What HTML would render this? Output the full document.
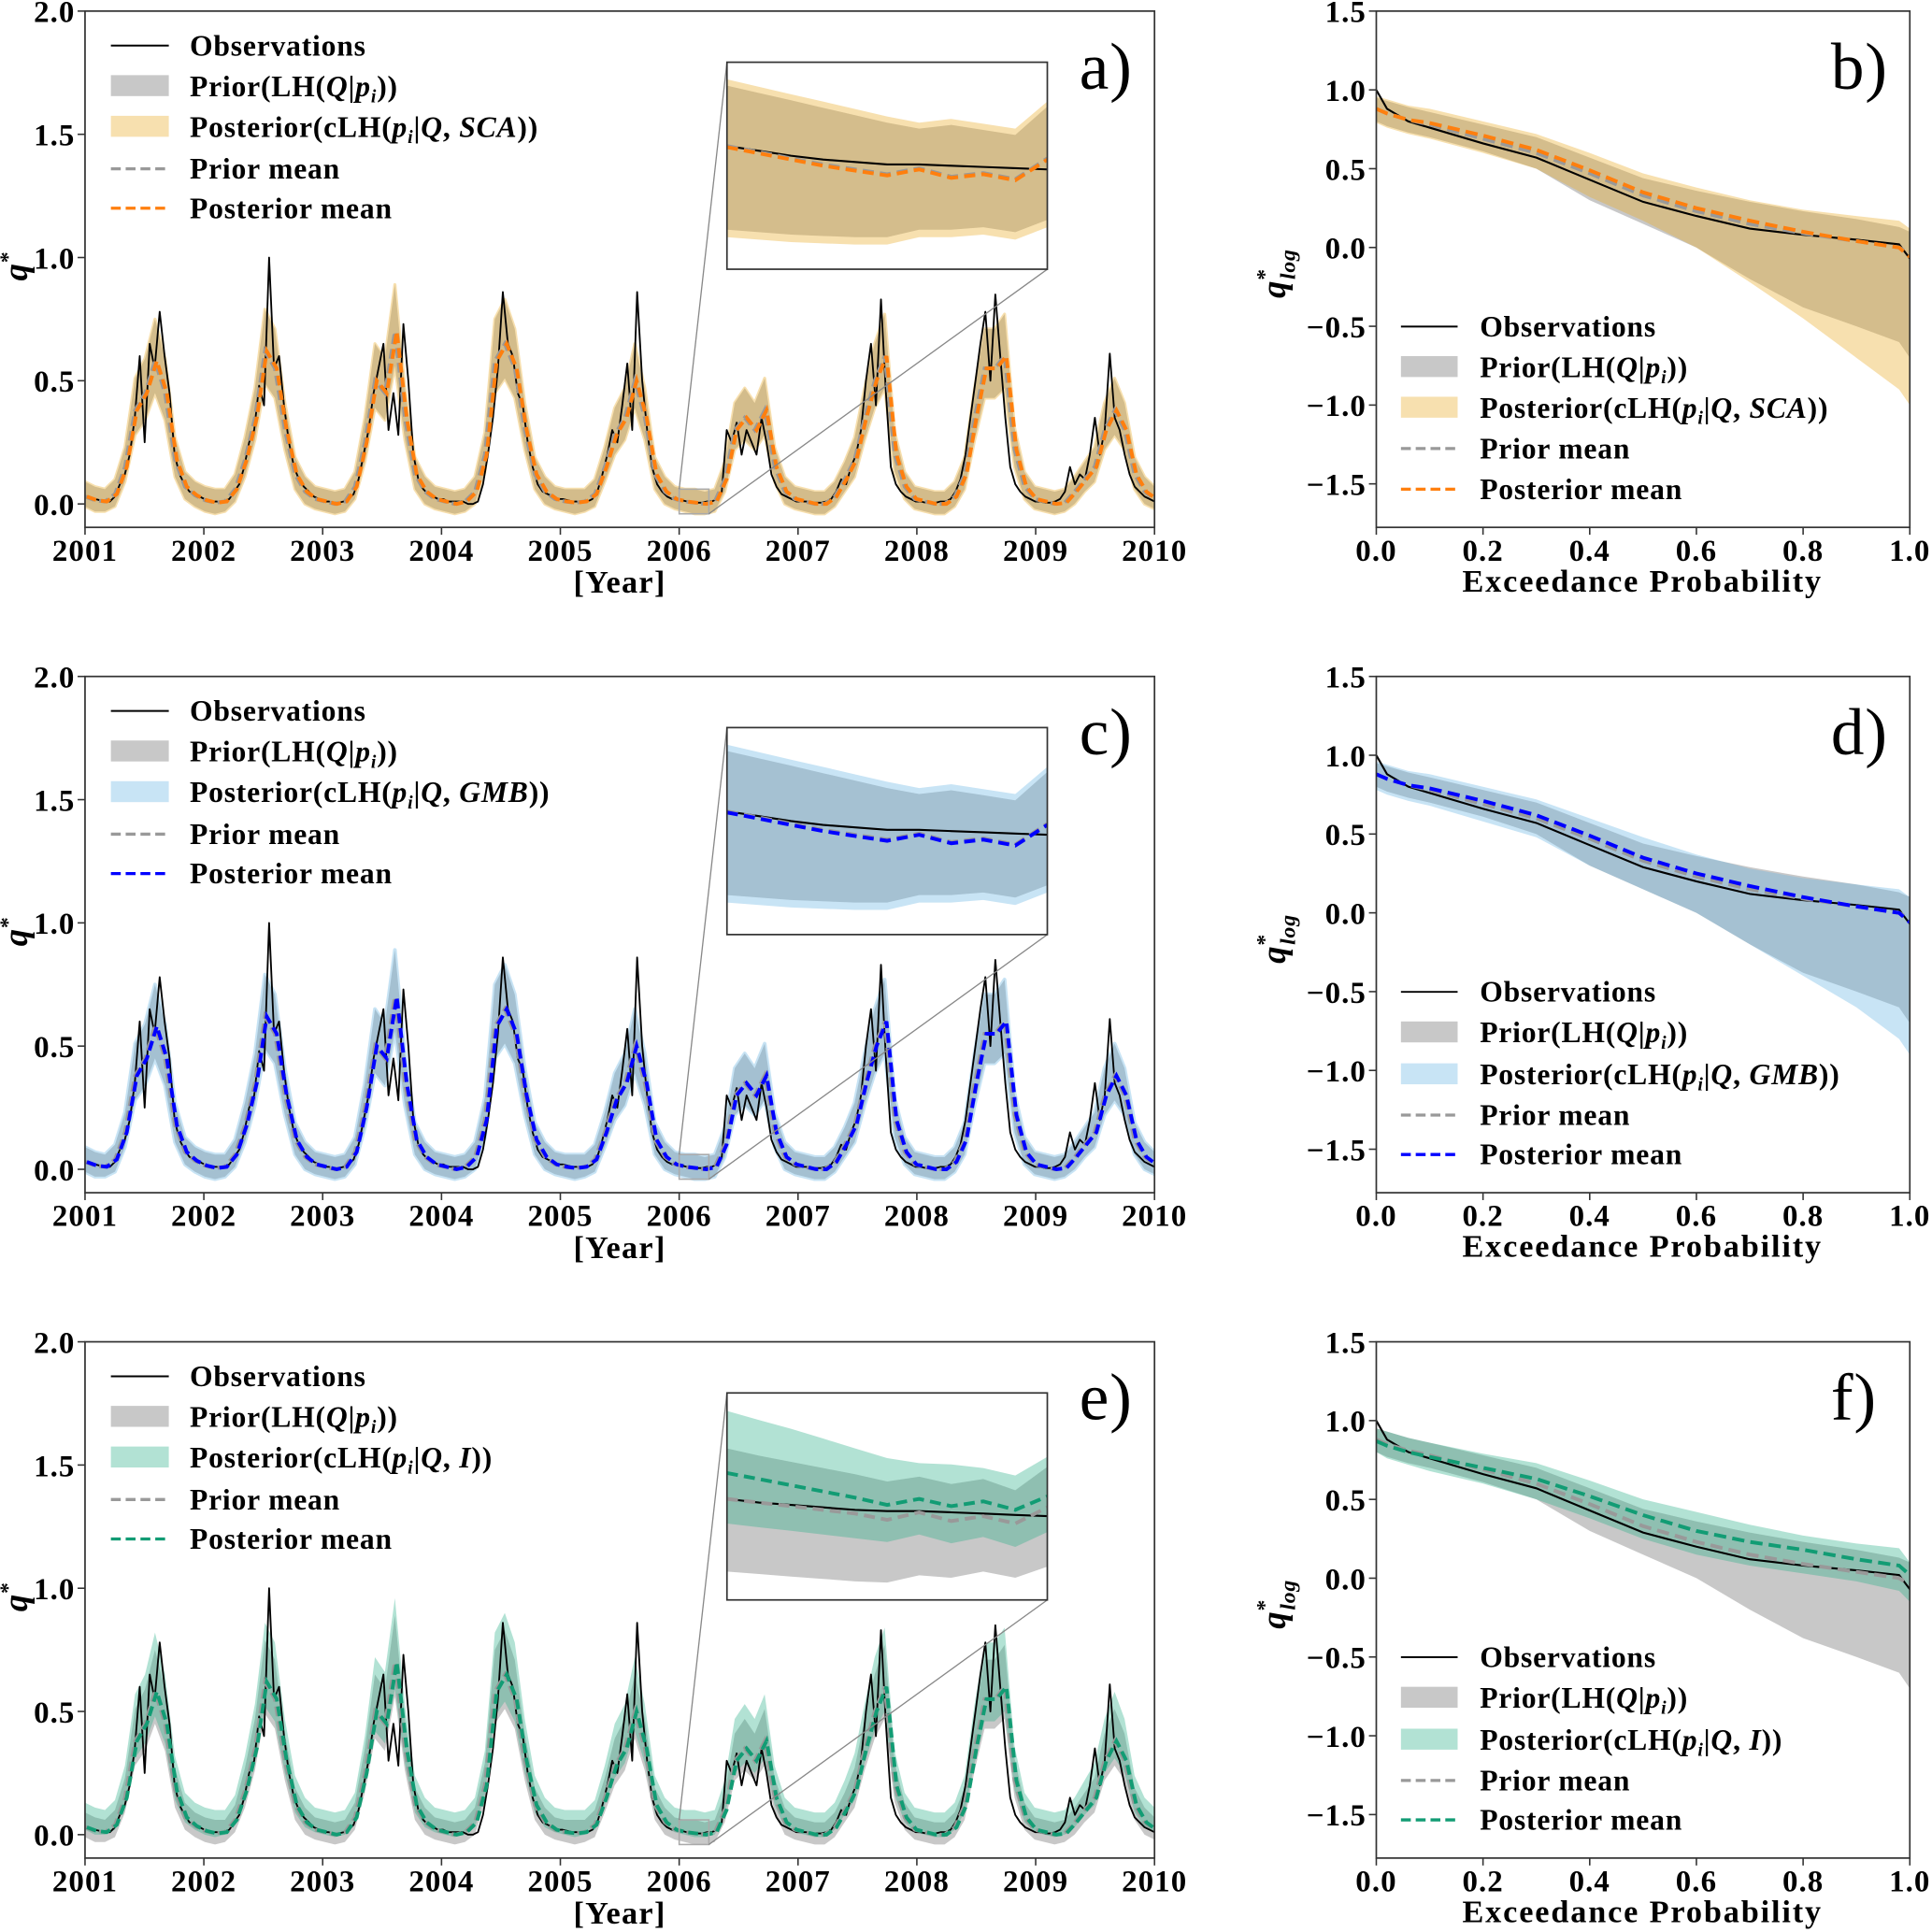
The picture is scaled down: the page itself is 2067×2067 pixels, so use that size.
<!DOCTYPE html>
<html><head><meta charset="utf-8"><style>
html,body{margin:0;padding:0;background:#fff;}
svg{display:block;font-family:"Liberation Serif",serif;font-weight:bold;}
</style></head><body>
<svg id="fig" width="2067" height="2067" viewBox="0 0 1568 1568" xmlns="http://www.w3.org/2000/svg">
<defs>
<clipPath id="clipTS0"><rect x="69" y="9" width="868" height="419"/></clipPath>
<clipPath id="clipTS1"><rect x="69" y="549" width="868" height="419"/></clipPath>
<clipPath id="clipTS2"><rect x="69" y="1089" width="868" height="419"/></clipPath>
<clipPath id="clipIn0"><rect x="590" y="50.5" width="260" height="168"/></clipPath>
<clipPath id="clipIn1"><rect x="590" y="590.5" width="260" height="168"/></clipPath>
<clipPath id="clipIn2"><rect x="590" y="1130.5" width="260" height="168"/></clipPath>
<clipPath id="clipF0"><rect x="1117" y="9" width="433" height="419"/></clipPath>
<clipPath id="clipF1"><rect x="1117" y="549" width="433" height="419"/></clipPath>
<clipPath id="clipF2"><rect x="1117" y="1089" width="433" height="419"/></clipPath>
</defs>
<g id="marks"></g>
<g id="static" font-size="24" letter-spacing="0.6">
<g>
 <line x1="90" y1="37" x2="137" y2="37" stroke="#000" stroke-width="1.5"/>
 <text x="154" y="45">Observations</text>
 <rect x="90" y="61" width="47" height="17" fill="#808080" fill-opacity="0.43"/>
 <text x="154" y="78">Prior(LH(<tspan font-style="italic">Q</tspan>|<tspan font-style="italic">p</tspan><tspan font-style="italic" font-size="15" dy="5">i</tspan><tspan dy="-5">))</tspan></text>
 <rect x="90" y="94" width="47" height="17" fill="rgb(233,169,33)" fill-opacity="0.36"/>
 <text x="154" y="111">Posterior(cLH(<tspan font-style="italic">p</tspan><tspan font-style="italic" font-size="15" dy="5">i</tspan><tspan dy="-5">|</tspan><tspan font-style="italic">Q</tspan>, <tspan font-style="italic">SCA</tspan>))</text>
 <line x1="90" y1="137" x2="137" y2="137" stroke="#999" stroke-width="2.5" stroke-dasharray="8,4"/>
 <text x="154" y="145">Prior mean</text>
 <line x1="90" y1="169" x2="137" y2="169" stroke="#ff7f0e" stroke-width="2.5" stroke-dasharray="8,4"/>
 <text x="154" y="177">Posterior mean</text>
</g>
<g>
 <line x1="90" y1="577" x2="137" y2="577" stroke="#000" stroke-width="1.5"/>
 <text x="154" y="585">Observations</text>
 <rect x="90" y="601" width="47" height="17" fill="#808080" fill-opacity="0.43"/>
 <text x="154" y="618">Prior(LH(<tspan font-style="italic">Q</tspan>|<tspan font-style="italic">p</tspan><tspan font-style="italic" font-size="15" dy="5">i</tspan><tspan dy="-5">))</tspan></text>
 <rect x="90" y="634" width="47" height="17" fill="rgb(102,180,227)" fill-opacity="0.36"/>
 <text x="154" y="651">Posterior(cLH(<tspan font-style="italic">p</tspan><tspan font-style="italic" font-size="15" dy="5">i</tspan><tspan dy="-5">|</tspan><tspan font-style="italic">Q</tspan>, <tspan font-style="italic">GMB</tspan>))</text>
 <line x1="90" y1="677" x2="137" y2="677" stroke="#999" stroke-width="2.5" stroke-dasharray="8,4"/>
 <text x="154" y="685">Prior mean</text>
 <line x1="90" y1="709" x2="137" y2="709" stroke="#0000ff" stroke-width="2.5" stroke-dasharray="8,4"/>
 <text x="154" y="717">Posterior mean</text>
</g>
<g>
 <line x1="90" y1="1117" x2="137" y2="1117" stroke="#000" stroke-width="1.5"/>
 <text x="154" y="1125">Observations</text>
 <rect x="90" y="1141" width="47" height="17" fill="#808080" fill-opacity="0.43"/>
 <text x="154" y="1158">Prior(LH(<tspan font-style="italic">Q</tspan>|<tspan font-style="italic">p</tspan><tspan font-style="italic" font-size="15" dy="5">i</tspan><tspan dy="-5">))</tspan></text>
 <rect x="90" y="1174" width="47" height="17" fill="rgb(41,174,136)" fill-opacity="0.36"/>
 <text x="154" y="1191">Posterior(cLH(<tspan font-style="italic">p</tspan><tspan font-style="italic" font-size="15" dy="5">i</tspan><tspan dy="-5">|</tspan><tspan font-style="italic">Q</tspan>, <tspan font-style="italic">I</tspan>))</text>
 <line x1="90" y1="1217" x2="137" y2="1217" stroke="#999" stroke-width="2.5" stroke-dasharray="8,4"/>
 <text x="154" y="1225">Prior mean</text>
 <line x1="90" y1="1249" x2="137" y2="1249" stroke="#129c74" stroke-width="2.5" stroke-dasharray="8,4"/>
 <text x="154" y="1257">Posterior mean</text>
</g>
<g>
 <line x1="1137" y1="265" x2="1183" y2="265" stroke="#000" stroke-width="1.5"/>
 <text x="1201" y="273">Observations</text>
 <rect x="1137" y="289" width="46" height="17" fill="#808080" fill-opacity="0.43"/>
 <text x="1201" y="306">Prior(LH(<tspan font-style="italic">Q</tspan>|<tspan font-style="italic">p</tspan><tspan font-style="italic" font-size="15" dy="5">i</tspan><tspan dy="-5">))</tspan></text>
 <rect x="1137" y="322" width="46" height="17" fill="rgb(233,169,33)" fill-opacity="0.36"/>
 <text x="1201" y="339">Posterior(cLH(<tspan font-style="italic">p</tspan><tspan font-style="italic" font-size="15" dy="5">i</tspan><tspan dy="-5">|</tspan><tspan font-style="italic">Q</tspan>, <tspan font-style="italic">SCA</tspan>))</text>
 <line x1="1137" y1="364" x2="1183" y2="364" stroke="#999" stroke-width="2.5" stroke-dasharray="8,4"/>
 <text x="1201" y="372">Prior mean</text>
 <line x1="1137" y1="397" x2="1183" y2="397" stroke="#ff7f0e" stroke-width="2.5" stroke-dasharray="8,4"/>
 <text x="1201" y="405">Posterior mean</text>
</g>
<g>
 <line x1="1137" y1="805" x2="1183" y2="805" stroke="#000" stroke-width="1.5"/>
 <text x="1201" y="813">Observations</text>
 <rect x="1137" y="829" width="46" height="17" fill="#808080" fill-opacity="0.43"/>
 <text x="1201" y="846">Prior(LH(<tspan font-style="italic">Q</tspan>|<tspan font-style="italic">p</tspan><tspan font-style="italic" font-size="15" dy="5">i</tspan><tspan dy="-5">))</tspan></text>
 <rect x="1137" y="863" width="46" height="17" fill="rgb(102,180,227)" fill-opacity="0.36"/>
 <text x="1201" y="880">Posterior(cLH(<tspan font-style="italic">p</tspan><tspan font-style="italic" font-size="15" dy="5">i</tspan><tspan dy="-5">|</tspan><tspan font-style="italic">Q</tspan>, <tspan font-style="italic">GMB</tspan>))</text>
 <line x1="1137" y1="905" x2="1183" y2="905" stroke="#999" stroke-width="2.5" stroke-dasharray="8,4"/>
 <text x="1201" y="913">Prior mean</text>
 <line x1="1137" y1="937" x2="1183" y2="937" stroke="#0000ff" stroke-width="2.5" stroke-dasharray="8,4"/>
 <text x="1201" y="945">Posterior mean</text>
</g>
<g>
 <line x1="1137" y1="1345" x2="1183" y2="1345" stroke="#000" stroke-width="1.5"/>
 <text x="1201" y="1353">Observations</text>
 <rect x="1137" y="1369" width="46" height="17" fill="#808080" fill-opacity="0.43"/>
 <text x="1201" y="1386">Prior(LH(<tspan font-style="italic">Q</tspan>|<tspan font-style="italic">p</tspan><tspan font-style="italic" font-size="15" dy="5">i</tspan><tspan dy="-5">))</tspan></text>
 <rect x="1137" y="1403" width="46" height="17" fill="rgb(41,174,136)" fill-opacity="0.36"/>
 <text x="1201" y="1420">Posterior(cLH(<tspan font-style="italic">p</tspan><tspan font-style="italic" font-size="15" dy="5">i</tspan><tspan dy="-5">|</tspan><tspan font-style="italic">Q</tspan>, <tspan font-style="italic">I</tspan>))</text>
 <line x1="1137" y1="1445" x2="1183" y2="1445" stroke="#999" stroke-width="2.5" stroke-dasharray="8,4"/>
 <text x="1201" y="1453">Prior mean</text>
 <line x1="1137" y1="1477" x2="1183" y2="1477" stroke="#129c74" stroke-width="2.5" stroke-dasharray="8,4"/>
 <text x="1201" y="1485">Posterior mean</text>
</g>
<text x="876" y="72" font-size="54" font-weight="normal">a)</text>
<text x="1486" y="72" font-size="54" font-weight="normal">b)</text>
<text x="876" y="612" font-size="54" font-weight="normal">c)</text>
<text x="1486" y="612" font-size="54" font-weight="normal">d)</text>
<text x="876" y="1152" font-size="54" font-weight="normal">e)</text>
<text x="1486" y="1152" font-size="54" font-weight="normal">f)</text>
<text x="503" y="481" font-size="26" letter-spacing="1" text-anchor="middle">[Year]</text>
<text x="503" y="1021" font-size="26" letter-spacing="1" text-anchor="middle">[Year]</text>
<text x="503" y="1561" font-size="26" letter-spacing="1" text-anchor="middle">[Year]</text>
<text x="1333" y="480" font-size="26" letter-spacing="1.4" text-anchor="middle">Exceedance Probability</text>
<text x="1333" y="1020" font-size="26" letter-spacing="1.4" text-anchor="middle">Exceedance Probability</text>
<text x="1333" y="1560" font-size="26" letter-spacing="1.4" text-anchor="middle">Exceedance Probability</text>
<g transform="translate(22,228) rotate(-90)"><text font-size="28" font-style="italic">q<tspan font-size="18" dy="-10" font-style="normal">*</tspan></text></g>
<g transform="translate(22,768) rotate(-90)"><text font-size="28" font-style="italic">q<tspan font-size="18" dy="-10" font-style="normal">*</tspan></text></g>
<g transform="translate(22,1308) rotate(-90)"><text font-size="28" font-style="italic">q<tspan font-size="18" dy="-10" font-style="normal">*</tspan></text></g>
<g transform="translate(1043,242) rotate(-90)"><text font-size="28" font-style="italic">q<tspan font-size="18" dy="-11" font-style="normal">*</tspan><tspan font-size="18" dx="-9" dy="19">log</tspan></text></g>
<g transform="translate(1043,782) rotate(-90)"><text font-size="28" font-style="italic">q<tspan font-size="18" dy="-11" font-style="normal">*</tspan><tspan font-size="18" dx="-9" dy="19">log</tspan></text></g>
<g transform="translate(1043,1322) rotate(-90)"><text font-size="28" font-style="italic">q<tspan font-size="18" dy="-11" font-style="normal">*</tspan><tspan font-size="18" dx="-9" dy="19">log</tspan></text></g>
</g>
</svg>
<script>
const years = [2001,2002,2003,2004,2005,2006,2007,2008,2009,2010];
const yTicksTS = [0.0,0.5,1.0,1.5,2.0];
const yTickLabelsTS = ['0.0','0.5','1.0','1.5','2.0'];
const obs = [
0.03,0.025,0.02,0.015,0.01,0.01,0.03,0.08,0.12,0.2,0.35,0.6,0.25,0.65,0.55,0.78,0.6,0.45,0.2,0.12,0.08,0.05,0.04,0.03,
0.02,0.015,0.01,0.01,0.01,0.02,0.05,0.08,0.15,0.25,0.3,0.48,0.4,1.0,0.55,0.6,0.4,0.25,0.15,0.1,0.07,0.05,0.03,0.02,
0.01,0.01,0.005,0.005,0.01,0.02,0.04,0.1,0.2,0.3,0.45,0.55,0.65,0.3,0.45,0.28,0.73,0.5,0.2,0.1,0.06,0.04,0.03,0.02,
0.02,0.01,0.01,0.01,0.01,0.0,0.0,0.01,0.08,0.2,0.35,0.55,0.86,0.65,0.6,0.45,0.4,0.25,0.15,0.08,0.05,0.04,0.03,0.02,
0.02,0.015,0.01,0.01,0.01,0.01,0.02,0.05,0.12,0.2,0.3,0.25,0.4,0.57,0.3,0.86,0.5,0.3,0.15,0.08,0.05,0.03,0.02,0.02,
0.015,0.01,0.01,0.005,0.005,0.01,0.01,0.02,0.05,0.3,0.25,0.33,0.2,0.3,0.25,0.2,0.35,0.25,0.12,0.07,0.04,0.03,0.02,0.01,
0.01,0.01,0.005,0.005,0.005,0.01,0.02,0.05,0.1,0.08,0.15,0.2,0.3,0.5,0.65,0.4,0.83,0.45,0.15,0.08,0.05,0.03,0.02,0.01,
0.01,0.005,0.005,0.005,0.01,0.01,0.02,0.05,0.1,0.2,0.35,0.5,0.65,0.78,0.5,0.85,0.6,0.35,0.15,0.08,0.05,0.03,0.02,0.01,
0.01,0.005,0.005,0.01,0.02,0.05,0.15,0.08,0.12,0.1,0.2,0.35,0.2,0.3,0.61,0.35,0.3,0.2,0.12,0.07,0.05,0.03,0.02,0.01];
const priorMean = [
0.03,0.015,0.01,0.04,0.15,0.38,0.45,0.58,0.45,0.18,0.07,0.035,
0.015,0.005,0.01,0.06,0.18,0.35,0.62,0.55,0.3,0.12,0.05,0.02,
0.01,0.0,0.01,0.07,0.25,0.5,0.45,0.7,0.35,0.12,0.05,0.02,
0.01,0.0,0.01,0.05,0.2,0.58,0.65,0.55,0.3,0.12,0.05,0.02,
0.01,0.005,0.01,0.04,0.15,0.28,0.35,0.5,0.35,0.12,0.05,0.02,
0.01,0.005,0.0,0.01,0.1,0.3,0.35,0.3,0.38,0.15,0.05,0.02,
0.01,0.0,0.0,0.03,0.1,0.18,0.35,0.5,0.6,0.2,0.07,0.02,
0.01,0.0,0.0,0.03,0.12,0.35,0.55,0.55,0.6,0.22,0.07,0.02,
0.01,0.0,0.005,0.05,0.1,0.15,0.3,0.38,0.3,0.12,0.05,0.02];
const priorHi = [
0.09,0.07,0.06,0.10,0.23,0.51,0.59,0.75,0.59,0.27,0.13,0.09,
0.07,0.06,0.06,0.12,0.27,0.47,0.79,0.71,0.41,0.19,0.11,0.07,
0.06,0.05,0.06,0.13,0.35,0.65,0.59,0.89,0.47,0.19,0.11,0.07,
0.06,0.05,0.06,0.11,0.29,0.75,0.83,0.71,0.41,0.19,0.11,0.07,
0.06,0.06,0.06,0.10,0.23,0.39,0.47,0.65,0.47,0.19,0.11,0.07,
0.06,0.06,0.05,0.06,0.17,0.41,0.47,0.41,0.51,0.23,0.11,0.07,
0.06,0.05,0.05,0.09,0.17,0.27,0.47,0.65,0.77,0.29,0.13,0.07,
0.06,0.05,0.05,0.09,0.19,0.47,0.71,0.71,0.77,0.31,0.13,0.07,
0.06,0.05,0.06,0.11,0.17,0.23,0.41,0.51,0.41,0.19,0.11,0.07];
const priorLo = [
-0.01,-0.03,-0.03,-0.01,0.09,0.28,0.34,0.45,0.34,0.11,0.02,-0.01,
-0.03,-0.04,-0.03,0.01,0.11,0.26,0.49,0.43,0.22,0.06,0.0,-0.02,
-0.03,-0.04,-0.03,0.02,0.17,0.39,0.34,0.56,0.26,0.06,0.0,-0.02,
-0.03,-0.04,-0.03,0.0,0.13,0.45,0.51,0.43,0.22,0.06,0.0,-0.02,
-0.03,-0.04,-0.03,-0.01,0.09,0.2,0.26,0.39,0.26,0.06,0.0,-0.02,
-0.03,-0.04,-0.04,-0.03,0.05,0.22,0.26,0.22,0.28,0.09,0.0,-0.02,
-0.03,-0.04,-0.04,-0.01,0.05,0.11,0.26,0.39,0.47,0.13,0.02,-0.02,
-0.03,-0.04,-0.04,-0.01,0.06,0.26,0.43,0.43,0.47,0.15,0.02,-0.02,
-0.03,-0.04,-0.03,0.0,0.05,0.09,0.22,0.28,0.22,0.06,0.0,-0.02];
const postHiE = [
0.13,0.11,0.10,0.14,0.28,0.57,0.65,0.82,0.65,0.32,0.17,0.13,
0.11,0.10,0.10,0.16,0.32,0.53,0.86,0.78,0.47,0.24,0.15,0.11,
0.10,0.09,0.10,0.17,0.40,0.72,0.66,0.96,0.53,0.24,0.15,0.11,
0.10,0.09,0.10,0.15,0.34,0.82,0.90,0.78,0.47,0.24,0.15,0.11,
0.10,0.10,0.10,0.14,0.28,0.45,0.53,0.72,0.53,0.24,0.15,0.11,
0.10,0.10,0.09,0.10,0.22,0.47,0.53,0.47,0.57,0.28,0.15,0.11,
0.10,0.09,0.09,0.13,0.22,0.33,0.53,0.72,0.84,0.34,0.17,0.11,
0.10,0.09,0.09,0.13,0.24,0.53,0.78,0.78,0.84,0.36,0.17,0.11,
0.10,0.09,0.10,0.15,0.22,0.29,0.47,0.58,0.47,0.24,0.15,0.11];
const postLoE = [
0.02,0.0,0.0,0.02,0.12,0.31,0.37,0.48,0.37,0.14,0.05,0.02,
0.0,-0.01,0.0,0.04,0.14,0.29,0.52,0.46,0.25,0.09,0.03,0.01,
0.0,-0.01,0.0,0.05,0.2,0.42,0.37,0.59,0.29,0.09,0.03,0.01,
0.0,-0.01,0.0,0.03,0.16,0.48,0.54,0.46,0.25,0.09,0.03,0.01,
0.0,-0.01,0.0,0.02,0.12,0.23,0.29,0.42,0.29,0.09,0.03,0.01,
0.0,-0.01,-0.01,0.0,0.08,0.25,0.29,0.25,0.31,0.12,0.03,0.01,
0.0,-0.01,-0.01,0.02,0.08,0.14,0.29,0.42,0.5,0.16,0.05,0.01,
0.0,-0.01,-0.01,0.02,0.09,0.29,0.46,0.46,0.5,0.18,0.05,0.01,
0.0,-0.01,0.0,0.03,0.08,0.12,0.25,0.31,0.25,0.09,0.03,0.01];
const postHiAC = priorHi;
const postLoAC = priorLo;
const postMeanAC = priorMean;
const postMeanE = priorMean;

const insetT = [2006.0,2006.025,2006.05,2006.075,2006.1,2006.125,2006.15,2006.175,2006.2,2006.225,2006.25];
const inObs = [19.5,17.2,14.8,13.0,11.8,10.6,10.6,10.0,9.4,8.8,8.2];
const inPriorMean = [19.5,16.6,13.6,10.6,8.2,5.9,8.8,4.7,6.5,3.5,13.6];
const inPriorHi = [48.7,45.1,41.6,38.0,34.4,30.8,27.9,29.7,27.3,24.9,38.6];
const inPriorLo = [-20.9,-22.1,-23.3,-23.9,-24.5,-24.5,-20.9,-20.9,-19.7,-22.1,-16.2];
const inPostHi = [51.7,48.1,44.5,41.0,37.4,33.8,30.8,32.6,30.3,27.9,41.0];
const inPostLo = [-24.5,-25.7,-26.9,-27.5,-28.1,-28.1,-24.5,-24.5,-23.3,-25.7,-19.7];
const inPostMeanAC = [19.0,16.0,13.0,10.0,7.6,5.3,8.2,4.1,5.9,3.0,13.0];
const inEObs = [8.8,7.0,5.9,4.7,3.5,2.9,2.9,2.3,1.7,1.1,0.5];
const inEPriorMean = [8.8,7.0,5.3,3.5,1.7,-1.3,2.3,-1.9,0.5,-3.1,4.7];
const inEPriorHi = [33.2,29.7,26.7,23.7,20.7,17.2,19.5,16.0,18.4,13.0,24.3];
const inEPriorLo = [-26.3,-27.5,-28.7,-29.8,-31.0,-31.6,-28.1,-29.3,-26.3,-29.3,-23.9];
const inEPostHi = [51.3,46.9,42.7,38.0,33.2,28.5,26.1,25.5,23.7,20.1,29.1];
const inEPostLo = [-3.1,-4.9,-6.6,-8.4,-10.2,-12.0,-8.4,-12.6,-9.6,-14.4,-7.2];
const inEPostMean = [21.3,18.4,15.4,12.4,9.4,5.9,8.8,5.3,7.6,3.5,10.0];

const pTicks = [0.0,0.2,0.4,0.6,0.8,1.0];
const pTickLabels = ['0.0','0.2','0.4','0.6','0.8','1.0'];
const yTicksF = [-1.5,-1.0,-0.5,0.0,0.5,1.0,1.5];
const yTickLabelsF = ['\u22121.5','\u22121.0','\u22120.5','0.0','0.5','1.0','1.5'];
const exceed = [0,0.02,0.06,0.1,0.2,0.3,0.4,0.5,0.6,0.7,0.8,0.9,0.98,1.0];
const fdcObs = [1.0,0.88,0.8,0.76,0.66,0.57,0.43,0.29,0.2,0.12,0.08,0.05,0.02,-0.07];
const fdcPriorMean = [0.88,0.85,0.81,0.78,0.69,0.6,0.47,0.33,0.23,0.15,0.09,0.04,0.0,-0.04];
const fdcPriorHi = [0.95,0.93,0.89,0.86,0.78,0.7,0.57,0.44,0.36,0.29,0.23,0.18,0.13,0.1];
const fdcPriorLo = [0.8,0.77,0.73,0.7,0.61,0.5,0.3,0.15,0.0,-0.2,-0.38,-0.5,-0.6,-0.7];
const fdcBHi = [0.96,0.94,0.9,0.88,0.8,0.72,0.6,0.47,0.38,0.3,0.24,0.2,0.17,0.12];
const fdcBLo = [0.79,0.76,0.72,0.69,0.6,0.5,0.32,0.17,0.0,-0.22,-0.45,-0.7,-0.9,-1.0];
const fdcBMean = [0.88,0.85,0.81,0.79,0.71,0.62,0.49,0.35,0.25,0.17,0.1,0.04,0.0,-0.06];
const fdcDHi = [0.96,0.94,0.9,0.88,0.8,0.72,0.6,0.48,0.37,0.28,0.22,0.18,0.15,0.1];
const fdcDLo = [0.78,0.75,0.71,0.68,0.58,0.48,0.3,0.15,0.0,-0.2,-0.4,-0.6,-0.8,-0.9];
const fdcDMean = [0.88,0.85,0.81,0.79,0.71,0.62,0.49,0.35,0.25,0.17,0.1,0.04,0.0,-0.06];
const fdcFHi = [0.95,0.93,0.89,0.86,0.79,0.73,0.62,0.5,0.42,0.34,0.27,0.22,0.19,0.1];
const fdcFLo = [0.8,0.76,0.72,0.68,0.6,0.5,0.38,0.25,0.15,0.08,0.03,-0.02,-0.08,-0.15];
const fdcFMean = [0.87,0.84,0.8,0.77,0.7,0.63,0.52,0.4,0.3,0.23,0.18,0.12,0.08,0.02];

const NS = 'http://www.w3.org/2000/svg';
const root = document.getElementById('marks');
function mk(tag, attrs, parent) {
  const e = document.createElementNS(NS, tag);
  for (const k in attrs) e.setAttribute(k, attrs[k]);
  (parent || root).appendChild(e);
  return e;
}
const rowTop = [9, 549, 1089];
const TS_L = 69, TS_R = 937, F_L = 1117, F_R = 1550, AX_H = 419;
const xTS = t => TS_L + (t - 2001) / 9 * (TS_R - TS_L);
const yTSf = top => v => top + (2.0 - v) * 200;
const xF = p => F_L + p * (F_R - F_L);
const yFf = top => v => top + (1.5 - v) * 127.9;
const tObs = i => 2001 + i * 9 / (obs.length - 1);
const tMon = i => 2001 + i * 9 / (priorMean.length - 1);

function linePath(xs, ys) {
  return xs.map((x, i) => (i ? 'L' : 'M') + x.toFixed(1) + ',' + ys[i].toFixed(1)).join('');
}
function bandPath(xs, hi, lo) {
  let d = linePath(xs, hi);
  for (let i = xs.length - 1; i >= 0; i--) d += 'L' + xs[i].toFixed(1) + ',' + lo[i].toFixed(1);
  return d + 'Z';
}
const GRAY = '#808080', GRAYOP = 0.43;

function drawAxesFrame(x0, x1, top, name) {
  const r = mk('rect', {x: x0, y: top, width: x1 - x0, height: AX_H, fill: 'none', stroke: '#333', 'stroke-width': 1.3});
  
  
}
function drawTicks(vals, labels, xfun, yfun, x0, top, horiz, name) {
  const g = mk('g', {'font-size': 25, 'letter-spacing': 0.8});
  
  
  vals.forEach((v, i) => {
    if (horiz) {
      const x = xfun(v), y = top + AX_H;
      mk('line', {x1: x, y1: y, x2: x, y2: y + 6, stroke: '#333', 'stroke-width': 1.2}, g);
      const t = mk('text', {x: x, y: y + 27, 'text-anchor': 'middle'}, g);
      
      
      t.textContent = labels[i];
    } else {
      const y = yfun(v);
      mk('line', {x1: x0, y1: y, x2: x0 - 6, y2: y, stroke: '#333', 'stroke-width': 1.2}, g);
      const t = mk('text', {x: x0 - 8, y: y + 9, 'text-anchor': 'end'}, g);
      
      
      t.textContent = labels[i];
    }
  });
}

const panelsTS = [
  {name: 'a', color: 'rgb(233,169,33)', mcol: '#ff7f0e', hi: postHiAC, lo: postLoAC, widen: 2.5, mean: postMeanAC,
   in: {obs: inObs, pm: inPriorMean, ph: inPriorHi, pl: inPriorLo, qh: inPostHi, ql: inPostLo, qm: inPostMeanAC}},
  {name: 'c', color: 'rgb(102,180,227)', mcol: '#0000ff', hi: postHiAC, lo: postLoAC, widen: 3, mean: postMeanAC,
   in: {obs: inObs, pm: inPriorMean, ph: inPriorHi, pl: inPriorLo, qh: inPostHi, ql: inPostLo, qm: inPostMeanAC}},
  {name: 'e', color: 'rgb(41,174,136)', mcol: '#129c74', hi: postHiE, lo: postLoE, widen: 0, mean: postMeanE,
   in: {obs: inEObs, pm: inEPriorMean, ph: inEPriorHi, pl: inEPriorLo, qh: inEPostHi, ql: inEPostLo, qm: inEPostMean}}
];

panelsTS.forEach((P, r) => {
  const top = rowTop[r];
  const yTS = yTSf(top);
  const g = mk('g', {'clip-path': 'url(#clipTS' + r + ')'});
  
  
  const xsM = priorMean.map((_, i) => xTS(tMon(i)));
  const pb = mk('path', {d: bandPath(xsM, priorHi.map(yTS), priorLo.map(yTS)), fill: GRAY, 'fill-opacity': GRAYOP}, g);
  
  
  const qg = mk('g', {opacity: 0.36}, g);
  const qb = mk('path', {d: bandPath(xsM, P.hi.map(yTS), P.lo.map(yTS)), fill: P.color, stroke: P.widen ? P.color : 'none', 'stroke-width': P.widen, 'stroke-linejoin': 'round'}, qg);
  
  
  const ol = mk('path', {d: linePath(obs.map((_, i) => xTS(tObs(i))), obs.map(yTS)), fill: 'none', stroke: '#000', 'stroke-width': 1.4, 'stroke-linejoin': 'round'}, g);
  
  
  const pm = mk('path', {d: linePath(xsM, priorMean.map(yTS)), fill: 'none', stroke: '#999', 'stroke-width': 3, 'stroke-dasharray': '8,4'}, g);
  
  
  const qm = mk('path', {d: linePath(xsM, P.mean.map(yTS)), fill: 'none', stroke: P.mcol, 'stroke-width': 3, 'stroke-dasharray': '8,4', transform: 'translate(1.5,0)'}, g);
  
  

  drawAxesFrame(TS_L, TS_R, top, 'axes-' + P.name);
  drawTicks(years, years.map(String), xTS, null, 0, top, true, 'x-ticks-' + P.name);
  drawTicks(yTicksTS, yTickLabelsTS, null, yTS, TS_L, top, false, 'y-ticks-' + P.name);

  const zx0 = xTS(insetT[0]), zx1 = xTS(insetT[insetT.length - 1]);
  const zy0 = yTS(0.06), zy1 = yTS(-0.04);
  const iL = 590, iR = 850, iT = top + 41.5, iB = top + 209.5;
  const zb = mk('rect', {x: zx0, y: zy0, width: zx1 - zx0, height: zy1 - zy0, fill: 'none', stroke: '#aaa', 'stroke-width': 1.2});
  
  
  const c1 = mk('line', {x1: zx0, y1: zy0, x2: iL, y2: iT, stroke: '#888', 'stroke-width': 1});
  
  
  const c2 = mk('line', {x1: zx1, y1: zy1, x2: iR, y2: iB, stroke: '#888', 'stroke-width': 1});
  
  

  const xI = t => iL + (t - insetT[0]) / (insetT[insetT.length - 1] - insetT[0]) * (iR - iL);
  const yI = v => iT + (60 - v) * 1.68;
  const ig = mk('g', {});
  
  
  mk('rect', {x: iL, y: iT, width: iR - iL, height: iB - iT, fill: '#fff'}, ig);
  const icg = mk('g', {'clip-path': 'url(#clipIn' + r + ')'}, ig);
  const xsI = insetT.map(xI);
  const ipb = mk('path', {d: bandPath(xsI, P.in.ph.map(yI), P.in.pl.map(yI)), fill: GRAY, 'fill-opacity': GRAYOP}, icg);
  
  
  const iqb = mk('path', {d: bandPath(xsI, P.in.qh.map(yI), P.in.ql.map(yI)), fill: P.color, 'fill-opacity': 0.36}, icg);
  
  
  const iol = mk('path', {d: linePath(xsI, P.in.obs.map(yI)), fill: 'none', stroke: '#000', 'stroke-width': 1.6}, icg);
  
  
  const ipm = mk('path', {d: linePath(xsI, P.in.pm.map(yI)), fill: 'none', stroke: '#999', 'stroke-width': 3, 'stroke-dasharray': '9,5'}, icg);
  
  
  const iqm = mk('path', {d: linePath(xsI, P.in.qm.map(yI)), fill: 'none', stroke: P.mcol, 'stroke-width': 3, 'stroke-dasharray': '9,5'}, icg);
  
  
  mk('rect', {x: iL, y: iT, width: iR - iL, height: iB - iT, fill: 'none', stroke: '#333', 'stroke-width': 1.3}, ig);
});

const panelsF = [
  {name: 'b', color: 'rgb(233,169,33)', mcol: '#ff7f0e', hi: fdcBHi, lo: fdcBLo, mean: fdcBMean},
  {name: 'd', color: 'rgb(102,180,227)', mcol: '#0000ff', hi: fdcDHi, lo: fdcDLo, mean: fdcDMean},
  {name: 'f', color: 'rgb(41,174,136)', mcol: '#129c74', hi: fdcFHi, lo: fdcFLo, mean: fdcFMean}
];
panelsF.forEach((P, r) => {
  const top = rowTop[r];
  const yF = yFf(top);
  const g = mk('g', {'clip-path': 'url(#clipF' + r + ')'});
  
  
  const xs = exceed.map(xF);
  const pb = mk('path', {d: bandPath(xs, fdcPriorHi.map(yF), fdcPriorLo.map(yF)), fill: GRAY, 'fill-opacity': GRAYOP}, g);
  
  
  const qb = mk('path', {d: bandPath(xs, P.hi.map(yF), P.lo.map(yF)), fill: P.color, 'fill-opacity': 0.36}, g);
  
  
  const ol = mk('path', {d: linePath(xs, fdcObs.map(yF)), fill: 'none', stroke: '#000', 'stroke-width': 1.6}, g);
  
  
  const pm = mk('path', {d: linePath(xs, fdcPriorMean.map(yF)), fill: 'none', stroke: '#999', 'stroke-width': 3, 'stroke-dasharray': '10,5'}, g);
  
  
  const qm = mk('path', {d: linePath(xs, P.mean.map(yF)), fill: 'none', stroke: P.mcol, 'stroke-width': 3, 'stroke-dasharray': '10,5'}, g);
  
  
  drawAxesFrame(F_L, F_R, top, 'axes-' + P.name);
  drawTicks(pTicks, pTickLabels, xF, null, 0, top, true, 'x-ticks-' + P.name);
  drawTicks(yTicksF, yTickLabelsF, null, yF, F_L, top, false, 'y-ticks-' + P.name);
});
document.getElementById('fig').appendChild(document.getElementById('static'));
</script>
</body></html>
